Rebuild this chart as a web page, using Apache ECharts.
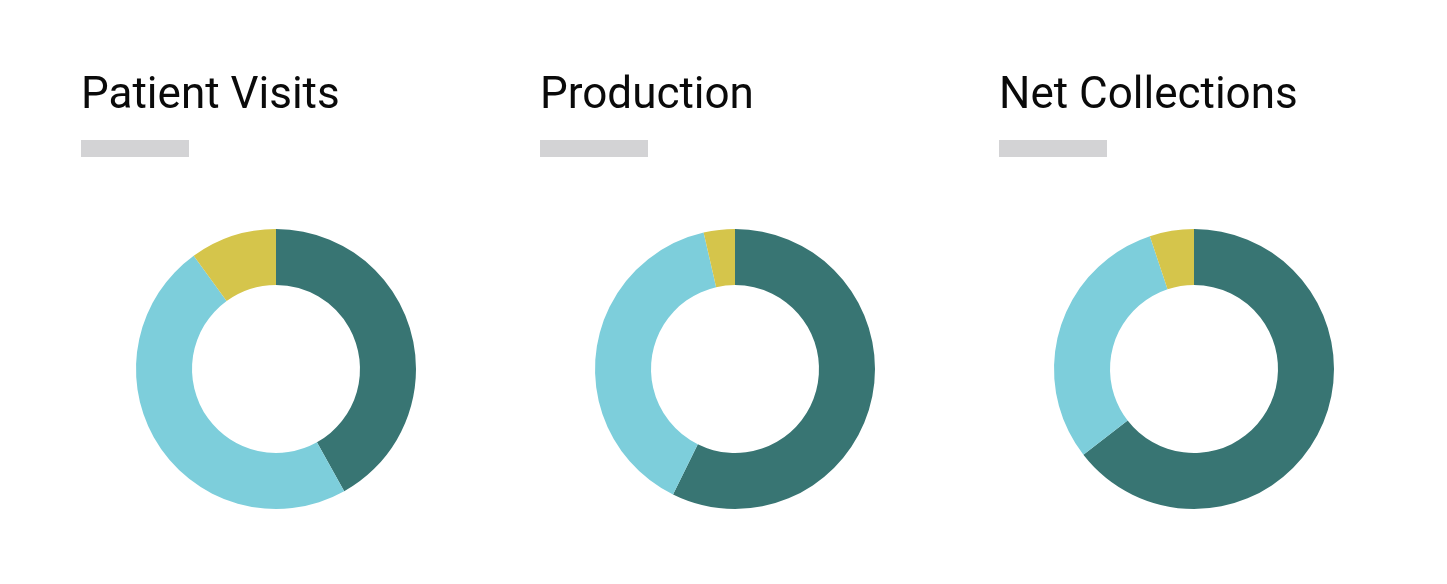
<!DOCTYPE html>
<html>
<head>
<meta charset="utf-8">
<script src="https://cdn.jsdelivr.net/npm/echarts@6/dist/echarts.min.js"></script>
<style>
  html, body { margin: 0; padding: 0; background: #fff; }
  #chart { width: 1447px; height: 584px; }
</style>
</head>
<body>
<div id="chart"></div>
<script>
// chart data
var chartTitles = ['Patient Visits', 'Production', 'Net Collections'];
var segmentNames = ['Segment A', 'Segment B', 'Segment C'];
var patientVisits = [41.9, 48.1, 10.0];
var production = [57.3, 39.1, 3.6];
var netCollections = [64.5, 30.4, 5.1];

var segmentColors = ['#387573', '#7dcedb', '#d5c54b'];
var allValues = [patientVisits, production, netCollections];

function buildChart() {
    var echart = echarts.init(document.getElementById('chart'));
    var colX = [81, 540, 999];
    var centerX = [276, 735, 1194];

    var titles = [];
    var graphics = [];
    var series = [];

    for (var i = 0; i < chartTitles.length; i++) {
        titles.push({
            text: chartTitles[i],
            left: colX[i],
            top: 75,
            padding: 0,
            textStyle: {
                fontFamily: 'Roboto',
                fontSize: 44,
                fontWeight: 'normal',
                color: '#0a0a0a'
            }
        });
        // grey underline bar
        graphics.push({
            type: 'rect',
            shape: { x: colX[i], y: 140, width: 108, height: 17 },
            style: { fill: '#d3d3d5' }
        });

        var data = [];
        for (var j = 0; j < segmentNames.length; j++) {
            data.push({
                name: segmentNames[j],
                value: allValues[i][j],
                itemStyle: { color: segmentColors[j] }
            });
        }
        series.push({
            type: 'pie',
            center: [centerX[i], 369],
            radius: [84, 140],
            startAngle: 90,
            clockwise: true,
            label: { show: false },
            labelLine: { show: false },
            emphasis: { disabled: true },
            itemStyle: { borderWidth: 0 },
            animation: false,
            data: data
        });
    }

    echart.setOption({
        backgroundColor: '#fff',
        title: titles,
        graphic: graphics,
        series: series
    });
}

buildChart();
</script>
</body>
</html>
